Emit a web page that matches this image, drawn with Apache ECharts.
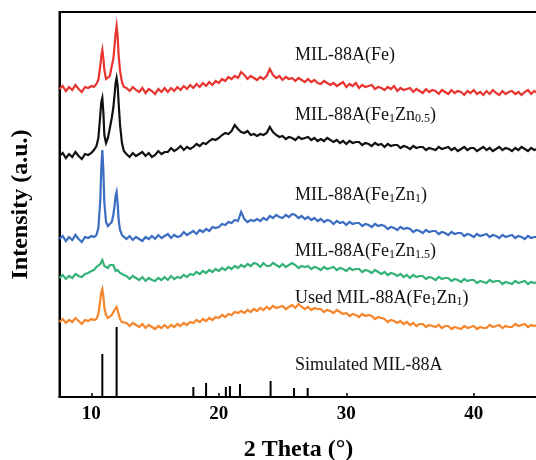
<!DOCTYPE html>
<html><head><meta charset="utf-8">
<script src="https://cdn.jsdelivr.net/npm/echarts@6/dist/echarts.min.js"></script>
<style>html,body{margin:0;padding:0;background:#fff}#c{width:536px;height:460px}</style>
</head><body><div id="c"></div>
<script>
const twoTheta = [7.5,7.75,8,8.25,8.5,8.75,9,9.25,9.5,9.75,10,
10.2,10.4,10.55,10.7,10.78,10.86,10.94,11.02,11.15,11.3,11.45,11.6,11.72,11.82,11.9,11.98,12.06,12.14,12.25,12.4,12.55,
12.75,
13,13.25,13.5,13.75,14,14.25,14.5,14.75,15,15.25,15.5,15.75,16,16.25,16.5,16.75,
17,17.25,17.5,17.75,18,18.25,18.5,18.75,19,19.25,19.5,19.75,20,20.25,20.5,20.75,
21,21.25,21.5,21.75,22,22.25,22.5,22.75,23,23.25,23.5,23.75,24,24.25,24.5,24.75,
25,25.25,25.5,25.75,26,26.25,26.5,26.75,27,27.25,27.5,27.75,28,28.25,28.5,28.75,
29,29.25,29.5,29.75,30,30.25,30.5,30.75,31,31.25,31.5,31.75,32,32.25,32.5,32.75,
33,33.25,33.5,33.75,34,34.25,34.5,34.75,35,35.25,35.5,35.75,36,36.25,36.5,36.75,
37,37.25,37.5,37.75,38,38.25,38.5,38.75,39,39.25,39.5,39.75,40,40.25,40.5,40.75,
41,41.25,41.5,41.75,42,42.25,42.5,42.75,43,43.25,43.5,43.75,44,44.25,44.5,44.75,
45];

const milFe = [308,311,306,310,307,312,308,305,310,309,311,
310,313,317,331,341,347,339,327,318,316,321,331,338,351,363,371,361,342,326,315,310,
309,
306,310,307,305, 309,304,308,306, 303,308,305,309, 305,309,306,310,
307,311,308,312, 309,313,310,314, 311,315,312,316, 314,318,316,320,
318,321,319,325, 322,318,321,319, 317,320,318,321, 328,322,319,321,
317,320,318,319, 316,319,317,315, 318,315,317,314, 313,316,314,312,
314,311,313,315, 310,313,311,314, 309,312,310,311, 312,308,310,309,
307,310,308,311, 306,309,307,308, 309,305,308,306, 304,308,305,307,
306,303,307,305, 303,307,304,306, 305,302,306,304, 307,303,305,302,
306,303,307,304, 302,306,303,305, 306,303,305,302, 305,307,303,306,
304];

const milFeZn05 = [241,244,239,243,240,245,241,238,243,242,244,
247,251,259,282,295,299,285,262,254,259,269,279,289,302,314,319,312,294,272,254,246,
243,
240,244,241,243, 245,241,244,240, 242,246,243,245, 245,249,246,248,
251,247,250,248, 250,253,251,254, 253,256,258,257, 259,262,264,263,
266,272,268,265, 264,266,262,263, 261,263,262,264, 270,265,262,260,
261,258,260,259, 257,260,258,259, 260,257,259,256, 258,256,259,257,
255,257,254,256, 253,256,254,255, 255,252,254,253, 251,254,252,253,
250,253,251,252, 252,249,251,250, 248,251,249,250, 250,247,249,248,
247,250,248,249, 250,247,249,246, 248,250,247,249, 249,246,248,250,
247,249,246,248, 250,247,249,248, 246,249,247,250, 248,246,249,247,
248];

const milFeZn1 = [158,161,156,160,157,162,158,155,160,159,161,
160,162,169,197,229,247,227,194,175,171,171,175,182,191,201,205,194,177,167,162,160,
158,
161,157,160,158, 156,160,158,161, 158,162,159,161, 163,159,162,160,
161,165,162,164, 166,163,167,165, 168,166,170,169, 170,173,172,175,
174,177,176,185, 178,175,177,176, 178,176,179,177, 181,179,182,180,
179,182,180,183, 182,179,181,178, 180,177,179,176, 178,175,177,176,
173,176,174,175, 172,175,173,174, 174,171,173,172, 170,173,171,172,
171,168,170,169, 167,170,168,169, 168,165,167,166, 164,167,165,166,
166,163,165,164, 162,165,163,164, 164,161,163,162, 160,163,161,162,
163,160,162,161, 159,162,160,161, 162,159,161,160, 158,161,159,160,
160];

const milFeZn15 = [119,122,118,121,119,123,121,120,123,124,126,
127,130,128,133,131,137,134,131,133,129,132,130,132,129,126,128,127,129,124,126,122,
121,
118,121,119,117, 120,116,119,117, 116,119,117,120, 117,121,118,120,
119,122,120,123, 122,125,123,126, 124,127,125,128, 126,129,127,130,
128,131,129,132, 130,133,131,134, 133,130,134,131, 131,134,132,130,
133,130,132,134, 132,129,131,130, 131,128,130,129, 127,130,128,129,
130,127,129,128, 126,129,127,128, 128,125,127,126, 124,127,125,123,
125,122,124,123, 121,123,120,122, 119,122,120,121, 121,118,120,119,
117,120,118,119, 119,116,118,117, 115,118,116,117, 117,114,116,115,
114,117,115,116, 116,113,115,114, 113,116,114,115, 116,113,115,114,
115];

const usedFeZn1 = [75,78,74,77,75,79,76,73,77,76,78,
77,78,83,97,105,108,101,89,82,79,80,82,84,87,89,90,88,83,78,75,73,
74,
71,74,72,70, 73,69,72,70, 68,71,69,72, 69,72,70,73,
71,74,72,75, 74,77,75,78, 76,79,77,80, 79,82,80,83,
82,85,84,86, 84,87,85,88, 86,89,87,90, 88,91,89,90,
91,88,90,92, 89,93,90,88, 90,87,89,88, 88,85,87,86,
84,87,85,83, 84,81,83,82, 80,83,81,82, 81,78,80,79,
78,75,77,76, 74,76,73,75, 72,74,71,73, 73,70,72,71,
70,72,69,71, 71,68,70,69, 68,71,69,70, 71,68,70,69,
69,72,70,71, 72,69,71,70, 70,73,71,72, 73,70,72,71,
72];

const simPos = [10.86, 11.98, 18.0, 19.0, 20.55, 20.87, 21.66, 24.06, 25.9, 26.97];
const simInt = [43, 70, 10, 14, 10, 11, 13, 16, 9, 9];

const xTicks = [10, 20, 30, 40];

const seriesNames = ['MIL-88A(Fe)', 'MIL-88A(Fe1Zn0.5)', 'MIL-88A(Fe1Zn1)', 'MIL-88A(Fe1Zn1.5)', 'Used MIL-88A(Fe1Zn1)'];
const seriesColors = ['#e8342f', '#111111', '#3b6dc2', '#35b27a', '#f5862c'];
const seriesData = [milFe, milFeZn05, milFeZn1, milFeZn15, usedFeZn1];

const labelTexts = ['MIL-88A(Fe)', 'MIL-88A(Fe{s|1}Zn{s|0.5})', 'MIL-88A(Fe{s|1}Zn{s|1})', 'MIL-88A(Fe{s|1}Zn{s|1.5})', 'Used MIL-88A(Fe{s|1}Zn{s|1})', 'Simulated MIL-88A'];
const labelX = [25.97, 25.97, 25.97, 25.97, 25.97, 25.97];
const labelY = [342, 282, 202, 146, 99, 32];

const serif = "'Liberation Serif','Times New Roman',serif";
const chart = echarts.init(document.getElementById('c'), null, {renderer: 'canvas'});

const series = seriesData.map((d, i) => ({
  name: seriesNames[i], type: 'line', showSymbol: false, animation: false,
  data: twoTheta.map((x, k) => [x, d[k]]),
  lineStyle: {color: seriesColors[i], width: 2.2, join: 'miter'}, itemStyle: {color: seriesColors[i]}
}));
series.push({
  name: 'Simulated MIL-88A', type: 'bar', barWidth: 2, animation: false,
  data: simPos.map((x, k) => [x, simInt[k]]), itemStyle: {color: '#000'}
});

chart.setOption({
  animation: false,
  grid: {left: 59.5, top: 12, width: 478, bottom: 63, show: true, borderColor: '#000', borderWidth: 2,
         outerBoundsMode: 'none', containLabel: false},
  xAxis: {
    type: 'value', min: 7.5, max: 45,
    name: '2 Theta (°)', nameLocation: 'middle', nameGap: 41,
    nameTextStyle: {fontFamily: serif, fontWeight: 'bold', fontSize: 24, color: '#000'},
    axisLine: {lineStyle: {color: '#000', width: 2}},
    axisTick: {inside: true, length: 4, customValues: xTicks, lineStyle: {color: '#000', width: 1.5}},
    axisLabel: {customValues: xTicks, fontFamily: serif, fontWeight: 'bold', fontSize: 19, color: '#000', margin: 8},
    splitLine: {show: false}
  },
  yAxis: {
    type: 'value', min: 0, max: 385,
    name: 'Intensity (a.u.)', nameLocation: 'middle', nameGap: 27,
    nameTextStyle: {fontFamily: serif, fontWeight: 'bold', fontSize: 24, color: '#000'},
    axisLine: {show: true, lineStyle: {color: '#000', width: 2}},
    axisTick: {show: false}, axisLabel: {show: false}, splitLine: {show: false}
  },
  series: series
});

const graphic = labelTexts.map((t, i) => {
  const p = chart.convertToPixel({gridIndex: 0}, [labelX[i], labelY[i]]);
  return {
    type: 'text', x: p[0], y: p[1], silent: true,
    style: {
      text: t, fill: '#111', font: '18px ' + serif, fontFamily: serif, fontSize: 18,
      verticalAlign: 'middle', align: 'left',
      rich: {s: {fontSize: 12, fontFamily: serif, verticalAlign: 'bottom', fill: '#111', padding: [7, 0, 0, 0]}}
    }
  };
});
chart.setOption({graphic: graphic});
</script>
</body></html>
